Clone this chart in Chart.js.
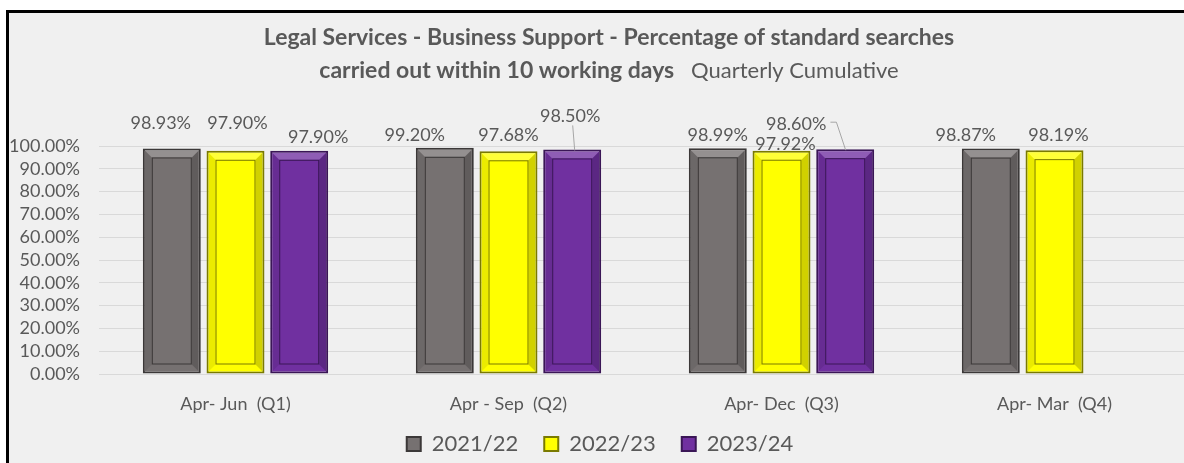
<!DOCTYPE html>
<html>
<head>
<meta charset="utf-8">
<script src="https://cdn.jsdelivr.net/npm/chart.js@4.4.1/dist/chart.umd.min.js"></script>
<style>
  body { margin: 0; background: #fff; overflow: hidden; width: 1184px; height: 463px; }
  #frame { position: absolute; left: 6px; top: 10px; width: 1230px; height: 490px;
           border-top: 3px solid #000; border-left: 3px solid #000; background: #f0f0f0; }
</style>
</head>
<body>
<div id="frame"><canvas id="BarChart" width="1200" height="471"></canvas></div>
<script>
// Dati del grafico
const quarters = ['Apr- Jun  (Q1)', 'Apr - Sep  (Q2)', 'Apr- Dec  (Q3)', 'Apr- Mar  (Q4)'];
const years = ['2021/22', '2022/23', '2023/24'];
const fy2122 = [98.93, 99.20, 98.99, 98.87];
const fy2223 = [97.90, 97.68, 97.92, 98.19];
const fy2324 = [97.90, 98.50, 98.60, null];

const fills = ['#767171', '#ffff00', '#7030a0'];
const edges = ['#3b3838', '#7a7a00', '#3a1656'];
const textColor = '#595959';

// spostamenti delle etichette (come in Excel): dx, dy dal centro/cima della barra, leader
const labelNudge = {
    '0-0': [-11, -25], '1-0': [2, -28], '2-0': [19, -14],
    '0-1': [-30, -13], '1-1': [0, -16], '2-1': [-2, -33, 'v'],
    '0-2': [0, -13], '1-2': [4, -7], '2-2': [-49, -25, 'h'],
    '0-3': [-25, -13], '1-3': [4, -15]
};

// titolo su due righe con parte in grassetto
const titlePlugin = {
    id: 'twoLineTitle',
    afterLayout(chart) {
        // avvicina la legenda alle etichette dell'asse
        chart.legend.top -= 19;
        chart.legend.bottom -= 19;
    },
    afterDraw(chart) {
        const ctx = chart.ctx;
        const cx = chart.width / 2;
        ctx.save();
        ctx.fillStyle = textColor;
        ctx.textBaseline = 'middle';
        ctx.textAlign = 'left';
        ctx.font = 'bold 23px Lato';
        const l1 = 'Legal Services - Business Support - Percentage of standard searches';
        const w1 = ctx.measureText(l1).width;
        ctx.fillText(l1, cx - w1 / 2, 25);
        const b2 = 'carried out within 10 working days';
        const n2 = '   Quarterly Cumulative';
        const wb = ctx.measureText(b2).width;
        ctx.font = '22px Lato';
        const wn = ctx.measureText(n2).width;
        const x0 = cx - (wb + wn) / 2;
        ctx.font = 'bold 23px Lato';
        ctx.fillText(b2, x0, 58);
        ctx.font = '22px Lato';
        ctx.fillText(n2, x0 + wb, 58);
        ctx.restore();
    }
};

// effetto smussato delle barre + etichette dei valori
const barDecor = {
    id: 'barDecor',
    afterDatasetsDraw(chart) {
        const ctx = chart.ctx;
        ctx.save();
        chart.data.datasets.forEach((ds, di) => {
            const meta = chart.getDatasetMeta(di);
            meta.data.forEach((bar, i) => {
                if (ds.data[i] == null) return;
                const p = bar.getProps(['x', 'y', 'base', 'width'], true);
                const l = p.x - p.width / 2, r = p.x + p.width / 2;
                const t = p.y, b = p.base;
                const inset = 9;
                // banda superiore chiara
                ctx.fillStyle = 'rgba(255,255,255,0.22)';
                ctx.beginPath();
                ctx.moveTo(l + 2, t + 2); ctx.lineTo(r - 2, t + 2);
                ctx.lineTo(r - inset, t + inset); ctx.lineTo(l + inset, t + inset);
                ctx.closePath(); ctx.fill();
                // banda destra scura
                ctx.fillStyle = 'rgba(0,0,0,0.18)';
                ctx.beginPath();
                ctx.moveTo(r - 2, t + 2); ctx.lineTo(r - 2, b - 2);
                ctx.lineTo(r - inset, b - inset); ctx.lineTo(r - inset, t + inset);
                ctx.closePath(); ctx.fill();
                // banda sinistra
                ctx.fillStyle = 'rgba(0,0,0,0.08)';
                ctx.beginPath();
                ctx.moveTo(l + 2, t + 2); ctx.lineTo(l + 2, b - 2);
                ctx.lineTo(l + inset, b - inset); ctx.lineTo(l + inset, t + inset);
                ctx.closePath(); ctx.fill();
                // rettangolo interno
                ctx.strokeStyle = edges[di];
                ctx.lineWidth = 1;
                ctx.strokeRect(l + inset + 0.5, t + inset + 0.5, p.width - 2 * inset - 1, b - t - 2 * inset - 1);

                // etichetta
                const n = labelNudge[di + '-' + i] || [0, -14];
                const tx = p.x + n[0], ty = t + n[1];
                ctx.font = '18px Lato';
                ctx.fillStyle = textColor;
                ctx.textAlign = 'center';
                ctx.textBaseline = 'middle';
                const txt = ds.data[i].toFixed(2) + '%';
                ctx.fillText(txt, tx, ty);
                if (n[2]) {
                    ctx.strokeStyle = '#a6a6a6';
                    ctx.lineWidth = 1;
                    ctx.beginPath();
                    if (n[2] === 'v') {
                        ctx.moveTo(tx + 2.5, ty + 9);
                        ctx.lineTo(p.x + 2.5, t + 1);
                    } else {
                        const tw = ctx.measureText(txt).width;
                        ctx.moveTo(tx + tw / 2 + 4, ty - 2);
                        ctx.lineTo(tx + tw / 2 + 10, ty - 2);
                        ctx.lineTo(p.x + 0.5, t + 1);
                    }
                    ctx.stroke();
                }
            });
        });
        ctx.restore();
    }
};

const barData = {
    labels: quarters,
    datasets: [fy2122, fy2223, fy2324].map((vals, k) => ({
        label: years[k],
        data: vals,
        backgroundColor: fills[k],
        borderColor: edges[k],
        borderWidth: 2,
        borderSkipped: false,
        categoryPercentage: 0.7,
        barPercentage: 0.91
    }))
};

const barOptions = {
    responsive: false,
    animation: false,
    layout: { padding: { top: 133, right: 18, left: 0, bottom: 0 } },
    scales: {
        x: {
            grid: { display: false },
            border: { display: true, color: '#d9d9d9', width: 1 },
            ticks: { color: textColor, font: { family: 'Lato', size: 18 }, padding: 11 },
            afterFit(scale) { scale.height = 52; }
        },
        y: {
            min: 0,
            max: 100,
            grid: { color: '#d9d9d9', drawTicks: false },
            border: { display: false },
            ticks: {
                stepSize: 10,
                autoSkip: false,
                color: textColor,
                font: { family: 'Lato', size: 18 },
                padding: 19,
                callback: v => v.toFixed(2) + '%'
            },
            afterFit(scale) { scale.width = 90; }
        }
    },
    plugins: {
        title: { display: false },
        tooltip: { enabled: false },
        legend: {
            position: 'bottom',
            labels: {
                color: textColor,
                font: { family: 'Lato', size: 22 },
                boxWidth: 14,
                boxHeight: 14,
                padding: 26
            }
        }
    }
};

document.addEventListener('DOMContentLoaded', function() {
    const ctx = document.getElementById('BarChart').getContext('2d');
    const barChart = new Chart(ctx, {
        type: 'bar',
        data: barData,
        options: barOptions,
        plugins: [titlePlugin, barDecor]
    });
});
</script>
</body>
</html>
